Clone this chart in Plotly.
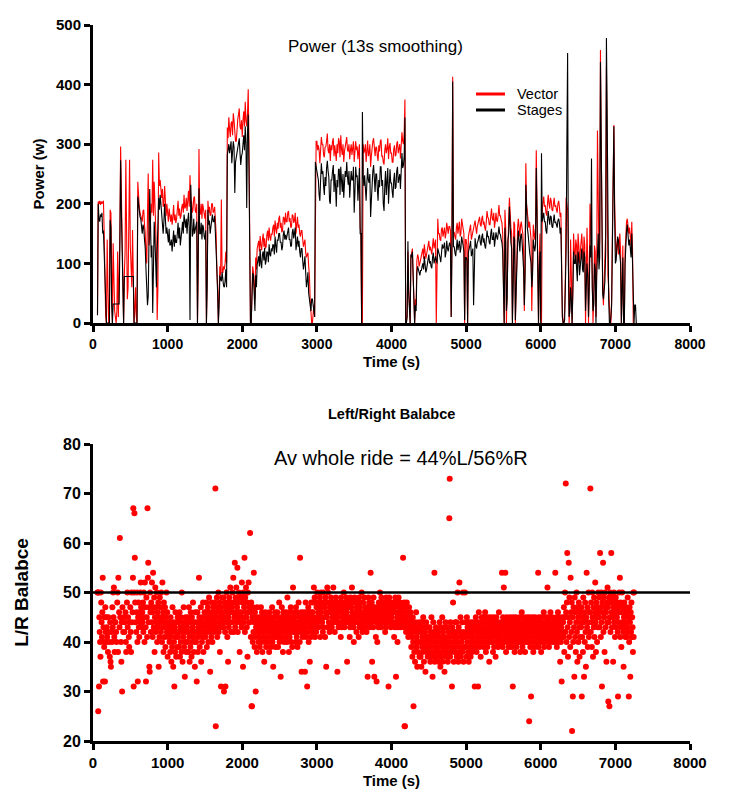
import plotly.graph_objects as go

# ---------------- Power data (W), sampled every 10 s starting at t = 0 s ----------------
POWER_T0_S = 0
POWER_STEP_S = 10
N = None
vector_w = [
    N, N, N, N, N, N, 14, 204, 200, 205, 198, 204, 200, 203, 205, 150, 60, 10, 0, 140,                 # 0
    60, 0, 30, 190, 185, 50, 0, 134, 60, 20, 10, 0, 20, 120, 10, 60, 150, 296, 200, 140,               # 200
    20, 0, 80, 120, 274, 90, 40, 60, 180, 274, 130, 92, 60, 156, 90, 0, 20, 60, 10, 0,                 # 400
    237, 200, 195, 185, 180, 172, 170, 188, 190, 165, 150, 120, 100, 180, 251, 130, 140, 170, 200, 185,  # 600
    274, 180, 237, 200, 160, 120, 5, 60, 286, 230, 240, 215, 210, 225, 195, 200, 230, 205, 180, 200,   # 800
    178, 170, 192, 175, 170, 182, 165, 178, 198, 172, 182, 168, 175, 190, 205, 180, 192, 175, 180, 195,  # 1000
    200, 185, 215, 192, 195, 210, 188, 205, 222, 195, 248, 200, 205, 185, 190, 210, 212, 188, 185, 200,  # 1200
    0, 100, 292, 185, 182, 200, 175, 200, 190, 178, 175, 190, 0, 80, 205, 185, 195, 180, 182, 200,     # 1400
    200, 185, 188, 195, 172, 150, 85, 60, 0, 40, 95, 80, 207, 85, 85, 95, 90, 100, 120, 100,           # 1600
    328, 310, 345, 325, 312, 335, 338, 315, 352, 340, 318, 305, 305, 330, 342, 350, 360, 330, 325, 340,  # 1800
    312, 340, 355, 330, 371, 340, 330, 350, 392, 300, 0, 0, 0, 80, 95, 85, 60, 40, 110, 90,            # 2000
    125, 135, 138, 120, 146, 130, 122, 140, 150, 128, 142, 125, 128, 148, 155, 138, 160, 145, 138, 150,  # 2200
    148, 160, 165, 145, 172, 158, 150, 168, 158, 175, 180, 160, 168, 152, 155, 178, 176, 165, 185, 170,  # 2400
    170, 185, 188, 170, 176, 160, 162, 182, 180, 168, 172, 185, 150, 165, 178, 160, 165, 150, 145, 155,  # 2600
    155, 140, 128, 135, 140, 118, 110, 115, 118, 95, 80, 40, 0, 0, 0, 20, 30, 10, 290, 305,            # 2800
    305, 290, 298, 290, 268, 285, 312, 300, 300, 282, 278, 295, 296, 305, 318, 290, 285, 300, 272, 298,  # 3000
    290, 305, 310, 280, 298, 285, 272, 300, 285, 310, 305, 278, 315, 292, 282, 300, 270, 288, 298, 310,  # 3200
    312, 290, 288, 300, 275, 290, 300, 282, 292, 305, 270, 288, 305, 290, 296, 275, 285, 300, 160, 150,  # 3400
    0, 0, 300, 285, 290, 300, 270, 295, 306, 280, 284, 300, 262, 280, 298, 305, 310, 285, 280, 295,    # 3600
    295, 280, 272, 298, 288, 305, 308, 280, 280, 270, 266, 290, 300, 285, 292, 310, 275, 295, 302, 285,  # 3800
    285, 270, 270, 292, 298, 280, 282, 300, 305, 285, 290, 300, 276, 295, 320, 305, 300, 320, 375, 0,  # 4000
    0, 20, 120, 60, 0, 0, 110, 120, 125, 80, 0, 0, 40, 30, 105, 115, 110, 95, 100, 105,                # 4200
    110, 118, 125, 108, 132, 120, 108, 115, 120, 130, 138, 122, 128, 118, 115, 130, 142, 125, 130, 140,  # 4400
    0, 60, 175, 150, 150, 140, 138, 158, 160, 145, 155, 160, 142, 150, 168, 155, 150, 162, 162, 155,   # 4600
    10, 150, 413, 152, 152, 145, 140, 160, 168, 150, 160, 170, 145, 150, 175, 162, 158, 150, 0, 140,   # 4800
    140, 130, 0, 145, 152, 160, 165, 140, 148, 155, 158, 165, 172, 160, 150, 162, 168, 175, 178, 165,  # 5000
    162, 175, 180, 165, 170, 160, 155, 170, 188, 178, 175, 165, 165, 180, 192, 175, 172, 185, 160, 170,  # 5200
    185, 172, 170, 182, 198, 180, 180, 172, 168, 150, 0, 0, 190, 160, 0, 60, 160, 175, 210, 180,       # 5400
    160, 150, 5, 80, 170, 165, 0, 60, 150, 160, 175, 160, 145, 165, 170, 158, 150, 120, 20, 100,       # 5600
    268, 200, 180, 170, 160, 170, 150, 140, 20, 100, 165, 150, 140, 160, 290, 200, 5, 0, 110, 150,     # 5800
    5, 0, 190, 200, 212, 195, 198, 185, 180, 200, 215, 200, 192, 210, 205, 190, 188, 200, 210, 195,    # 6000
    198, 190, 185, 200, 205, 195, 178, 185, 60, 10, 0, 0, 20, 80, 210, 200, 190, 120, 0, 30,           # 6200
    140, 80, 0, 60, 150, 120, 110, 140, 130, 90, 150, 130, 100, 120, 140, 150, 120, 100, 145, 130,     # 6400
    0, 60, 160, 100, 0, 80, 200, 160, 120, 80, 0, 40, 130, 120, 10, 100, 323, 200, 110, 140,           # 6600
    458, 300, 130, 60, 30, 80, 110, 150, 430, 200, 80, 60, 5, 0, 0, 40, 150, 250, 332, 200,            # 6800
    120, 110, 130, 140, 115, 150, 150, 120, 0, 60, 130, 0, 0, 120, 160, 170, 175, 165, 150, 160,       # 7000
    140, 130, 170, 120, 0, 0, N, N, N,                                                                 # 7200
]
stages_w = [
    N, N, N, N, N, N, 13, 200, 175, 170, 182, 178, 185, 150, 155, 120, 64, 30, 0, 0,
    0, 0, 0, 173, 160, 30, 0, 32, 32, 32, 32, 32, 32, 32, 32, 32, 130, 273, 190, 131,
    78, 0, 78, 78, 78, 78, 78, 78, 78, 78, 78, 78, 78, 78, 78, 0, 0, 0, 0, 0,
    212, 195, 190, 178, 175, 160, 150, 165, 160, 140, 125, 90, 60, 30, 45, 150, 225, 170, 110, 130,
    17, 90, 170, 140, 90, 60, 120, 180, 210, 190, 215, 200, 180, 165, 150, 170, 200, 175, 150, 160,
    145, 135, 158, 130, 132, 140, 120, 148, 155, 128, 148, 135, 135, 150, 168, 142, 160, 130, 140, 155,
    170, 150, 182, 165, 160, 175, 150, 172, 185, 160, 5, 232, 170, 145, 150, 175, 150, 160, 165, 170,
    0, 80, 226, 150, 150, 168, 140, 165, 160, 145, 140, 155, 0, 60, 190, 165, 172, 150, 160, 178,
    182, 170, 170, 180, 150, 140, 90, 50, 0, 30, 80, 75, 70, 85, 65, 62, 60, 70, 90, 60,
    282, 295, 300, 285, 292, 305, 268, 290, 305, 295, 218, 270, 278, 290, 298, 305, 310, 285, 265, 280,
    285, 300, 315, 290, 330, 300, 193, 320, 350, 260, 0, 0, 0, 60, 84, 80, 40, 20, 80, 60,
    98, 110, 112, 95, 124, 100, 92, 115, 120, 105, 126, 98, 104, 120, 118, 102, 132, 115, 112, 125,
    120, 132, 130, 115, 145, 130, 118, 140, 138, 150, 150, 135, 136, 122, 128, 148, 155, 140, 148, 140,
    148, 155, 160, 140, 140, 128, 130, 152, 158, 142, 150, 160, 122, 135, 145, 128, 138, 120, 110, 125,
    125, 105, 90, 100, 112, 85, 60, 70, 85, 50, 40, 20, 20, 40, 40, 30, 20, 10, 270, 262,
    262, 250, 240, 215, 205, 240, 268, 250, 255, 230, 215, 245, 230, 260, 272, 255, 245, 205, 200, 240,
    240, 255, 265, 220, 250, 230, 195, 240, 228, 258, 258, 215, 262, 240, 220, 250, 210, 235, 255, 245,
    270, 245, 232, 255, 210, 235, 255, 240, 240, 262, 185, 220, 262, 245, 248, 205, 225, 260, 150, 150,
    0, 354, 248, 230, 248, 215, 205, 235, 260, 240, 235, 250, 178, 205, 242, 255, 265, 240, 220, 250,
    250, 225, 205, 240, 228, 262, 262, 230, 240, 200, 188, 230, 255, 215, 245, 260, 200, 240, 258, 235,
    235, 220, 210, 240, 252, 225, 228, 255, 262, 235, 245, 250, 225, 250, 285, 260, 265, 280, 345, 0,
    0, 10, 137, 50, 0, 0, 115, 110, 120, 70, 0, 0, 30, 20, 85, 95, 90, 80, 80, 88,
    88, 95, 100, 90, 112, 98, 85, 90, 98, 108, 115, 100, 104, 95, 92, 110, 118, 100, 105, 112,
    105, 100, 125, 120, 118, 110, 102, 120, 132, 125, 128, 135, 110, 118, 138, 125, 120, 130, 135, 128,
    10, 120, 405, 128, 128, 118, 112, 125, 140, 122, 135, 138, 118, 125, 145, 130, 130, 120, 5, 110,
    110, 105, 0, 118, 122, 130, 138, 112, 118, 125, 30, 120, 142, 130, 125, 135, 138, 145, 148, 135,
    130, 145, 150, 135, 142, 130, 125, 138, 155, 145, 145, 135, 132, 150, 158, 140, 140, 152, 128, 140,
    152, 145, 140, 150, 162, 150, 148, 140, 135, 120, 0, 0, 160, 135, 20, 40, 140, 150, 195, 160,
    135, 125, 0, 60, 145, 140, 5, 50, 125, 135, 155, 140, 120, 145, 150, 135, 115, 90, 30, 80,
    232, 170, 160, 150, 140, 120, 110, 100, 60, 80, 140, 125, 120, 130, 260, 180, 0, 0, 90, 120,
    0, 285, 170, 182, 185, 170, 170, 155, 150, 170, 188, 175, 165, 180, 178, 162, 160, 172, 182, 168,
    170, 165, 160, 172, 175, 168, 150, 160, 40, 10, 0, 0, 5, 60, 120, 300, 453, 100, 10, 20,
    60, 40, 0, 50, 120, 100, 100, 115, 90, 70, 120, 110, 80, 95, 110, 125, 90, 85, 120, 110,
    20, 50, 100, 80, 10, 60, 130, 110, 276, 60, 20, 30, 100, 90, 0, 80, 140, 150, 90, 110,
    438, 250, 80, 50, 40, 60, 70, 120, 478, 350, 70, 40, 0, 0, 10, 30, 130, 220, 330, 180,
    100, 105, 120, 145, 140, 125, 125, 100, 0, 40, 110, 0, 0, 100, 140, 155, 165, 150, 130, 140,
    120, 110, 150, 100, 0, 0, 30, 30, 0,
]

# ---------------- Left/Right balance (% left), sampled every 5 s from t = 60 s ----------------
BAL_T0_S = 60
BAL_STEP_S = 5
balance_pct = [
    50, 50, 26, 50, 31, 45, 42, 40, 37, 50, 48, 44, 41, 46, 53, 32, 43, 40, 39, 45, 32, 47, 42, 40,
    45, 43, 41, N, 38, 45, 42, 40, N, 37, 44, 36, 35, 42, N, 40, 47, 43, 50, 45, 51, 41, 38, 44,
    44, N, 42, 40, N, 48, 50, 38, 53, N, 46, 43, 61, 45, N, 40, 36, 44, 30, 47, N, 42, 45, N,
    42, 44, N, 46, 40, 38, N, 48, 50, 43, 45, N, 41, 39, 44, N, 47, 42, 38, 50, 44, N, 46, 53,
    67, 31, 50, 66, 57, 48, 44, N, 42, 46, 50, 40, 32, 45, 48, 43, 41, 46, 44, 50, 52, 47, 45, 43,
    46, 44, 48, 42, 50, 45, 40, 52, 47, 43, 32, 49, 45, 41, 67, 53, 56, 44, 47, 35, 34, 50, 46, 42,
    48, 44, 52, 46, 41, 54, 47, 43, 49, 38, 45, 51, 42, 47, 44, 50, 40, 46, 43, 48, 35, 45, 41, 49,
    44, 47, 42, 50, 45, 40, 52, 43, 46, 38, 48, 44, 41, 47, 39, 45, 43, 50, 42, 46, 37, 44, 41, 43,
    42, 40, 44, 38, 45, 41, 36, 43, 39, 47, 42, 35, 44, 40, 31, 43, 38, 46, 41, 37, 44, 42, 39, 45,
    41, 44, 39, 42, 46, 37, 43, 40, 45, 38, 50, 42, 36, 44, 41, 47, 39, 43, 33, 40, 45, 42, 38, 44,
    43, 40, 45, 38, 42, 47, 41, 36, 44, 39, 46, 42, 37, 45, 40, 43, 48, 41, 38, 44, 42, 35, 46, 40,
    40, 44, 32, 42, 46, 38, 43, 41, 53, 45, 39, 44, 42, 47, 36, 43, 40, 45, 41, 48, 38, 44, 42, 46,
    44, 41, 46, 43, 48, 39, 45, 42, 47, 40, 44, 49, 43, 46, 34, 42, 45, 41, 48, 44, 40, 46, 43, 47,
    45, 42, 48, 44, 71, 23, 46, 43, 49, 41, 47, 45, 50, 42, 44, 48, 38, 46, 43, 31, 47, 45, 49, 44,
    46, 43, 49, 30, 45, 48, 42, 31, 47, 44, 50, 46, 41, 48, 36, 45, 43, 49, 47, 44, 51, 46, 42, 48,
    47, 44, 50, 46, 53, 42, 48, 45, 56, 43, 49, 46, 51, 44, 47, 55, 42, 48, 45, 50, 46, 38, 49, 44,
    46, 49, 43, 52, 45, 48, 35, 50, 44, 47, 57, 42, 49, 46, 51, 45, 43, 48, 37, 50, 46, 52, 44, 47,
    44, 62, 46, 41, 48, 27, 27, 45, 40, 47, 42, 54, 44, 39, 46, 41, 30, 43, 45, 38, 47, 42, 44, 40,
    43, 41, 45, 39, 44, 42, 47, 40, 43, 46, 38, 44, 41, 45, 42, 36, 44, 40, 46, 43, 39, 45, 41, 43,
    42, 45, 40, 44, 38, 46, 43, 41, 45, 39, 44, 42, 47, 40, 43, 35, 45, 41, 44, 42, 46, 39, 43, 41,
    44, 41, 46, 43, 39, 45, 42, 48, 40, 44, 41, 33, 45, 43, 47, 41, 44, 38, 46, 42, 40, 45, 43, 44,
    43, 46, 41, 44, 40, 49, 42, 45, 43, 38, 46, 41, 44, 42, 47, 40, 45, 43, 39, 44, 51, 42, 46, 43,
    45, 42, 44, 40, 47, 43, 41, 46, 39, 44, 42, 48, 43, 45, 40, 57, 44, 42, 46, 34, 43, 45, 41, 44,
    44, 46, 42, 45, 34, 43, 48, 41, 46, 44, 31, 45, 42, 47, 40, 44, 46, 36, 43, 45, 41, 48, 44, 46,
    46, 42, 48, 45, 51, 43, 49, 41, 44, 48, 42, 47, 45, 50, 44, 46, 48, 43, 47, 45, 49, 41, 46, 50,
    45, 48, 44, 47, 42, 50, 43, 48, 45, 47, 41, 49, 46, 35, 48, 45, 51, 43, 50, 46, 44, 48, 42, 47,
    47, 44, 49, 46, 43, 48, 45, 47, 51, 44, 46, 48, 42, 47, 45, 49, 46, 44, 48, 34, 45, 47, 43, 46,
    46, 48, 44, 47, 41, 49, 43, 46, 48, 45, 47, 44, 50, 46, 43, 48, 45, 47, 44, 49, 46, 36, 45, 48,
    45, 47, 44, 48, 41, 43, 49, 45, 47, 44, 51, 46, 48, 45, 43, 40, 46, 49, 44, 46, 48, 45, 42, 47,
    47, 44, 48, 46, 41, 49, 43, 47, 45, 48, 44, 46, 50, 45, 42, 43, 48, 46, 44, 49, 45, 47, 46, 43,
    46, 42, 45, 47, 33, 44, 49, 46, 48, 45, 43, 47, 54, 46, 44, 48, 36, 45, 47, 43, 49, 46, 33, 45,
    47, 45, 41, 44, 32, 46, 40, 45, 47, 43, 48, 46, 44, 50, 45, 47, 43, 49, 46, 44, 48, 45, 47, 44,
    45, 48, 44, 42, 46, 43, 49, 45, 47, 44, 48, 46, 31, 45, 49, 44, 47, 46, 43, 48, 45, 47, 44, 46,
    46, 44, 48, 41, 47, 43, 49, 46, 33, 44, 48, 45, 40, 43, 46, 49, 44, 47, 45, 48, 43, 46, 44, 47,
    45, 47, 44, 57, 46, 43, 48, 23, 23, 45, 47, 42, 44, 48, 45, 43, 46, 41, 44, 47, 42, 45, 43, 46,
    42, 39, 44, 41, 37, 45, 40, 27, 43, 38, 42, 36, 44, 40, 46, 39, 41, 35, 43, 38, 42, 40, 44, 37,
    40, 43, 37, 42, 35, 44, 39, 41, 38, 45, 40, 36, 43, 39, 42, 34, 41, 44, 38, 40, 43, 37, 41, 39,
    41, 38, 43, 40, 36, 42, 39, 45, 37, 41, 33, 40, 44, 38, 42, 54, 36, 41, 39, 43, 37, 40, 42, 38,
    39, 42, 36, 41, 38, 44, 40, 35, 43, 37, 41, 39, 45, 36, 42, 40, 38, 43, 34, 41, 39, 44, 37, 40,
    40, 38, 43, 36, 42, 39, 41, 65, 73, 37, 44, 40, 38, 42, 31, 43, 39, 48, 41, 36, 42, 38, 40, 44,
    42, 39, 44, 37, 41, 50, 40, 36, 43, 38, 52, 42, 39, 45, 37, 41, 40, 44, 38, 50, 42, 36, 41, 39,
    41, 50, 44, 39, 42, 37, 45, 40, 43, 38, 42, 36, 44, 41, 39, 43, 37, 42, 40, 44, 38, 41, 43, 39,
    42, 40, 44, 31, 43, 39, 45, 41, 38, 44, 42, 40, 31, 43, 46, 41, 39, 44, 42, 37, 43, 40, 45, 42,
    43, 41, 45, 39, 42, 44, 40, 46, 42, 38, 44, 41, 43, 39, 45, 42, 40, 44, 36, 43, 41, 45, 42, 40,
    41, 44, 40, 43, 38, 45, 42, 39, 44, 41, 43, 37, 42, 45, 40, 43, 41, 44, 39, 42, 46, 40, 43, 41,
    42, 40, 44, 41, 54, 43, 39, 45, 42, 51, 40, 44, 41, 54, 43, 38, 42, 45, 40, 43, 41, 44, 39, 42,
    43, 41, 45, 40, 42, 44, 39, 43, 41, 31, 45, 42, 40, 44, 38, 43, 41, 45, 42, 39, 44, 40, 43, 41,
    40, 43, 41, 45, 42, 38, 44, 40, 43, 46, 41, 39, 44, 42, 40, 45, 43, 41, 38, 44, 42, 40, 43, 45,
    42, 44, 40, 43, 41, 24, 45, 42, 39, 44, 29, 41, 43, 40, 45, 42, 38, 44, 41, 43, 39, 45, 42, 40,
    41, 43, 40, 44, 42, 54, 39, 45, 41, 43, 40, 44, 42, 38, 45, 41, 43, 40, 44, 42, 46, 39, 43, 41,
    43, 41, 45, 42, 40, 44, 51, 43, 41, 45, 39, 44, 42, 40, 46, 43, 41, 44, 42, 45, 40, 43, 41, 44,
    42, 44, 40, 54, 43, 41, 45, 39, 44, 42, 46, 40, 43, 41, 45, 42, 36, 44, 40, 43, 32, 41, 45, 42,
    44, 41, 47, 38, 45, 50, 42, 72, 46, 40, 48, 58, 43, 37, 45, 56, 41, 49, 44, 39, 53, 46, 42, 48,
    22, 45, 29, 40, 47, 43, 33, 49, 41, 46, 38, 44, 50, 42, 36, 47, 45, 40, 48, 43, 37, 46, 41, 44,
    43, 47, 29, 41, 45, 38, 49, 44, 33, 46, 40, 48, 42, 35, 45, 54, 43, 47, 39, 44, 50, 41, 46, 42,
    46, 71, 42, 48, 44, 39, 50, 45, 37, 47, 43, 49, 41, 46, 52, 44, 38, 48, 45, 40, 47, 43, 50, 46,
    45, 49, 43, 58, 47, 41, 50, 44, 31, 48, 46, 56, 42, 49, 45, 38, 50, 47, 43, 46, 36, 48, 44, 51,
    47, 28, 44, 49, 27, 45, 50, 42, 48, 58, 46, 43, 49, 45, 36, 47, 50, 44, 48, 41, 46, 49, 43, 47,
    45, 48, 42, 29, 47, 44, 50, 46, 53, 41, 48, 43, 39, 46, 50, 44, 47, 42, 35, 45, 48, 43, 46, 41,
    44, 47, 41, 46, 43, 49, 42, 45, 29, 40, 47, 44, 33, 46, 42, 48, 41, 45, 43, 38, 50, 41, 50, N,
]
balance_reference_pct = 50

time_ticks = [0, 1000, 2000, 3000, 4000, 5000, 6000, 7000, 8000]
power_ticks = [0, 100, 200, 300, 400, 500]
balance_ticks = [20, 30, 40, 50, 60, 70, 80]
legend_names = ["Vector", "Stages"]

power_time_s = [POWER_T0_S + POWER_STEP_S * i for i in range(len(vector_w))]
balance_time_s = [BAL_T0_S + BAL_STEP_S * i for i in range(len(balance_pct))]

FONT = "Liberation Sans, Arial, sans-serif"
RED = "#ff0000"
series_colors = [RED, "black"]

fig = go.Figure()
fig.add_trace(go.Scatter(x=power_time_s, y=vector_w, mode="lines", name=legend_names[0],
                         line=dict(color=RED, width=1.1), showlegend=False,
                         xaxis="x", yaxis="y"))
fig.add_trace(go.Scatter(x=power_time_s, y=stages_w, mode="lines", name=legend_names[1],
                         line=dict(color="black", width=1.1), showlegend=False,
                         xaxis="x", yaxis="y"))
fig.add_trace(go.Scatter(x=balance_time_s, y=balance_pct, mode="markers", name="L/R balance",
                         marker=dict(color=RED, size=6, line=dict(width=0)),
                         showlegend=False, xaxis="x2", yaxis="y2"))

axis_common = dict(showline=True, linewidth=3, linecolor="black", ticks="outside",
                   ticklen=6, tickwidth=2.5, tickcolor="black", showgrid=False,
                   zeroline=False, automargin=False, mirror=False)

TOP_DOMAIN = [0.5838, 1.0]
BOT_DOMAIN = [0.0, 0.4148]


def px_x(xp):
    # page pixel -> paper x (plot area spans page px 93..690)
    return (xp - 93) / 597


def px_y(yp):
    # page pixel -> paper y (plot area spans page px 25..741)
    return (741 - yp) / 716


shapes = [dict(type="line", xref="x2", yref="y2", x0=0, x1=8000,
               y0=balance_reference_pct, y1=balance_reference_pct,
               line=dict(color="black", width=2.5), layer="above")]
annotations = [
    dict(text="Power (13s smoothing)", xref="paper", yref="paper",
         x=px_x(375), y=px_y(46), xanchor="center", yanchor="middle",
         showarrow=False, font=dict(family=FONT, size=17, color="black")),
    dict(text="Left/Right Balabce", xref="paper", yref="paper",
         x=0.5, y=px_y(414), xanchor="center", yanchor="middle",
         showarrow=False, font=dict(family=FONT, size=14.5, color="black", weight="bold")),
    dict(text="Av whole ride = 44%L/56%R", xref="paper", yref="paper",
         x=px_x(401), y=px_y(458), xanchor="center", yanchor="middle",
         showarrow=False, font=dict(family=FONT, size=20, color="black")),
]
# legend keys + labels
for i, (name, col) in enumerate(zip(legend_names, series_colors)):
    yk = px_y(94 + 16 * i)
    shapes.append(dict(type="line", xref="paper", yref="paper",
                       x0=px_x(476), x1=px_x(505), y0=yk, y1=yk,
                       line=dict(color=col, width=3)))
    annotations.append(dict(text=name, xref="paper", yref="paper", x=px_x(515), y=yk,
                            xanchor="left", yanchor="middle", showarrow=False,
                            font=dict(family=FONT, size=14.5, color="black")))

fig.update_layout(
    width=723, height=798,
    margin=dict(l=85, r=41, t=17, b=65),
    template="none",
    paper_bgcolor="white", plot_bgcolor="white",
    font=dict(family=FONT, color="black"),
    showlegend=False,
    xaxis=dict(axis_common, domain=[0, 1], anchor="y", range=[0, 8000],
               tickvals=time_ticks,
               tickfont=dict(family=FONT, size=14, weight="bold"),
               title=dict(text="Time (s)", font=dict(family=FONT, size=15, weight="bold"),
                          standoff=6)),
    yaxis=dict(axis_common, domain=TOP_DOMAIN, anchor="x", range=[0, 500],
               tickvals=power_ticks,
               tickfont=dict(family=FONT, size=15, weight="bold"),
               title=dict(text="Power (w)", font=dict(family=FONT, size=15, weight="bold"),
                          standoff=8)),
    xaxis2=dict(axis_common, domain=[0, 1], anchor="y2", range=[0, 8000],
                tickvals=time_ticks,
                tickfont=dict(family=FONT, size=15, weight="bold"),
                title=dict(text="Time (s)", font=dict(family=FONT, size=15, weight="bold"),
                           standoff=6)),
    yaxis2=dict(axis_common, domain=BOT_DOMAIN, anchor="x2", range=[20, 80],
                tickvals=balance_ticks,
                tickfont=dict(family=FONT, size=16, weight="bold"),
                title=dict(text="L/R Balabce", font=dict(family=FONT, size=19, weight="bold"),
                           standoff=30)),
    shapes=shapes,
    annotations=annotations,
)

fig.write_html("out.html")
